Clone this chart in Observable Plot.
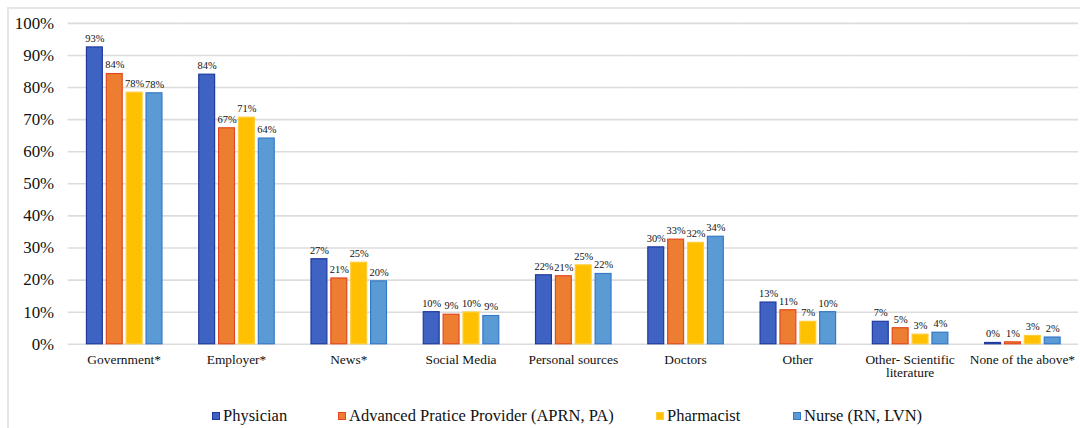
<!DOCTYPE html>
<html>
<head>
<meta charset="utf-8">
<script src="https://cdn.jsdelivr.net/npm/d3@7"></script>
<script src="https://cdn.jsdelivr.net/npm/@observablehq/plot@0.6"></script>
<style>
  html, body { margin: 0; padding: 0; background: #fff; overflow: hidden; }
  #wrap { position: relative; width: 1080px; height: 428px; overflow: hidden; font-family: "Liberation Serif", "DejaVu Serif", "Times New Roman", serif; }
  #frame { position: absolute; left: 7px; top: 7px; width: 1100px; height: 440px; border-top: 2px solid #e6e6e6; border-left: 2px solid #e6e6e6; box-sizing: border-box; }
  #chart { position: absolute; left: 0; top: 0; }
  #chart svg { overflow: visible; }
  [aria-label="y-axis tick label"] text, g[aria-label="y-axis"] .tick text { font-size: 17px; fill: #111; }
  [aria-label="fx-axis tick label"] text, g[aria-label="fx-axis"] .tick text { font-size: 13.5px; fill: #111; }
  #legend { position: absolute; top: 406px; left: 0; width: 1080px; height: 22px; font-size: 16.5px; color: #111; }
  .li { position: absolute; top: 0; white-space: nowrap; display: flex; align-items: center; }
  .sw { width: 8px; height: 8px; margin-right: 3px; box-sizing: border-box; border: 1px solid; }
</style>
</head>
<body>
<div id="wrap">
  <div id="frame"></div>
  <div id="chart"></div>
  <div id="legend"></div>
</div>
<script>
const categories = ["Government*", "Employer*", "News*", "Social Media", "Personal sources", "Doctors", "Other", "Other- Scientific literature", "None of the above*"];
const series = ["Physician", "Advanced Pratice Provider (APRN, PA)", "Pharmacist", "Nurse (RN, LVN)"];
const physician = [92.5, 84, 26.5, 10, 21.5, 30.2, 13, 7, 0.4];
const advanced = [84.2, 67.3, 20.5, 9.2, 21.2, 32.6, 10.6, 5, 0.6];
const pharmacist = [78.4, 70.6, 25.4, 9.9, 24.6, 31.6, 7, 3, 2.6];
const nurse = [78.2, 64.1, 19.6, 8.8, 21.9, 33.5, 10, 3.6, 2.1];
const valueLabels = {
  "Physician": ["93%", "84%", "27%", "10%", "22%", "30%", "13%", "7%", "0%"],
  "Advanced Pratice Provider (APRN, PA)": ["84%", "67%", "21%", "9%", "21%", "33%", "11%", "5%", "1%"],
  "Pharmacist": ["78%", "71%", "25%", "10%", "25%", "32%", "7%", "3%", "3%"],
  "Nurse (RN, LVN)": ["78%", "64%", "20%", "9%", "22%", "34%", "10%", "4%", "2%"]
};
const yTicks = [0, 10, 20, 30, 40, 50, 60, 70, 80, 90, 100];

const fills = ["#3E63C3", "#ED7D31", "#FFC000", "#5B9BD5"];
const strokes = ["#1E3A9E", "#E2481F", "#FFCD3A", "#3478C8"];

const seriesValues = [physician, advanced, pharmacist, nurse];
const rows = [];
categories.forEach((c, ci) => {
  series.forEach((s, si) => {
    rows.push({category: c, series: s, value: seriesValues[si][ci], label: valueLabels[s][ci]});
  });
});

const serif = "Liberation Serif, DejaVu Serif, Times New Roman, serif";
const marks = [
  Plot.ruleY(yTicks, {stroke: "#dcdcdc", strokeWidth: 1.6})
];
series.forEach((s, i) => {
  marks.push(Plot.barY(rows, {
    filter: d => d.series === s,
    x: "series", y: "value",
    fill: fills[i], stroke: strokes[i], strokeWidth: 1.2
  }));
});
marks.push(Plot.text(rows, {
  x: "series", y: "value",
  text: "label",
  dy: -9, fontSize: 10.5, fill: "#111", fontFamily: serif
}));

const chart = Plot.plot({
  width: 1087,
  height: 400,
  marginLeft: 65,
  marginRight: 0,
  marginTop: 23,
  marginBottom: 54,
  style: {fontFamily: serif, background: "transparent", color: "#111"},
  facet: {data: rows, x: "category"},
  fx: {domain: categories, padding: 0, axis: "bottom", label: null, tickSize: 0, tickPadding: 10,
       tickFormat: d => d === "Other- Scientific literature" ? "Other- Scientific\nliterature" : d},
  x: {domain: series, axis: null, paddingInner: 0.22, paddingOuter: 0.88},
  y: {domain: [0, 100], ticks: yTicks, tickFormat: d => d + "%", tickSize: 0, tickPadding: 14, label: null},
  marks
});
document.getElementById("chart").appendChild(chart);

const legendLefts = [212, 338, 656, 793];
const legend = document.getElementById("legend");
series.forEach((s, i) => {
  const item = document.createElement("div");
  item.className = "li";
  item.style.left = legendLefts[i] + "px";
  const sw = document.createElement("span");
  sw.className = "sw";
  sw.style.background = fills[i];
  sw.style.borderColor = strokes[i];
  const t = document.createElement("span");
  t.textContent = s;
  item.appendChild(sw);
  item.appendChild(t);
  legend.appendChild(item);
});
</script>
</body>
</html>
